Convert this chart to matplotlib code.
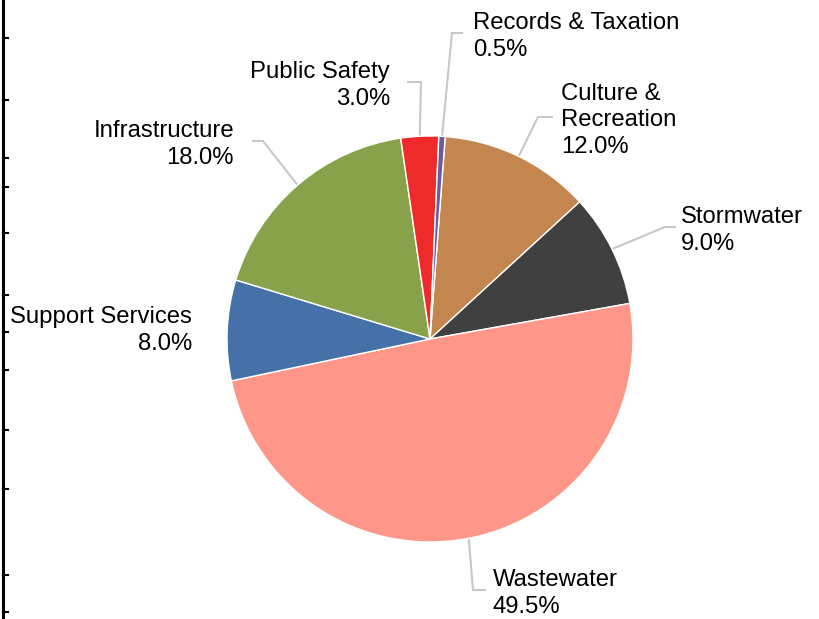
import numpy as np
import matplotlib.pyplot as plt

categories = ['Culture &\nRecreation', 'Stormwater', 'Wastewater', 'Support Services',
              'Infrastructure', 'Public Safety', 'Records & Taxation']
shares = [12.0, 9.0, 49.5, 8.0, 18.0, 3.0, 0.5]
colors = ['#C4864F', '#404040', '#FF968A', '#4571A8', '#87A24B', '#EE2A2A', '#6B5B9A']

# label layout: (elbow x, elbow y, end x, text x, align) in pixel coords, y from top
layout = [
    (538, 117, 553, 561, 'left'),
    (665, 227, 676, 681, 'left'),
    (473, 590, 486, 493, 'left'),
    (None, 327, None, 192, 'right'),
    (263, 141, 252, 234, 'right'),
    (421, 82, 407, 390, 'right'),
    (452, 33, 463, 473, 'left'),
]
H = 619
cx, cy, R = 430, H - 339, 203

plt.rcParams['font.family'] = ['Liberation Sans', 'DejaVu Sans']
fig = plt.figure(figsize=(8.2, 6.19), dpi=100)
ax = fig.add_axes([0, 0, 1, 1])

start = 85.7
wedges, _ = ax.pie(shares, colors=colors, startangle=start, counterclock=False,
                   center=(cx, cy), radius=R,
                   wedgeprops=dict(edgecolor='white', linewidth=1))
ax.set_xlim(0, 820)
ax.set_ylim(0, H)
ax.set_aspect('auto')
ax.axis('off')

for w, name, val, lay in zip(wedges, categories, shares, layout):
    ex, ey, endx, tx, ha = lay
    mid = np.deg2rad((w.theta1 + w.theta2) / 2)
    px, py = cx + R * np.cos(mid), cy + R * np.sin(mid)
    if ex is not None:
        ax.plot([px, ex, endx], [py, H - ey, H - ey], color='#C8C8C8', lw=1.5,
                solid_capstyle='butt', zorder=0)
    ax.text(tx, H - ey - 3.5, f'{name}\n{val:.1f}%', ha=ha, va='center', multialignment=ha,
            fontsize=17.2, color='black', linespacing=1.24)

# frame edge at left of the image
ticks_y = [38, 100, 158, 187, 233, 295, 332, 370, 430, 489, 575, 612]
ax.plot([3, 3], [0, H], color='black', lw=2.2, clip_on=False)
for t in ticks_y:
    ax.plot([3, 8], [H - t, H - t], color='black', lw=1.5)

fig.savefig('out.png', dpi=100)
